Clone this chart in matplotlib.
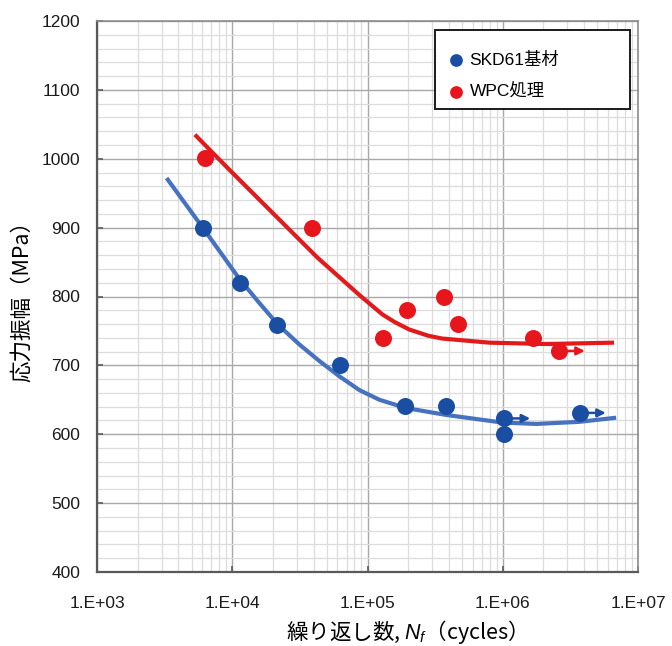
import matplotlib

matplotlib.use("Agg")
import matplotlib.pyplot as plt
from matplotlib.patches import Rectangle
from matplotlib.ticker import FixedLocator, NullFormatter

# measured points
skd_n = [6100, 11400, 21600, 62100, 190000, 381000, 1030000, 1030000, 3730000]
skd_s = [900, 819, 759, 701, 641, 641, 623, 600, 631]
skd_runout = [False, False, False, False, False, False, True, False, True]

wpc_n = [6270, 39100, 131000, 196000, 370000, 470000, 1660000, 2610000]
wpc_s = [1001, 900, 740, 780, 799, 760, 740, 721]
wpc_runout = [False, False, False, False, False, False, False, True]

# trend curves
skd_fit_n = [3270, 6100, 11350, 15950, 21800, 31500, 44300, 62100, 87300,
             122700, 193000, 383000, 991000, 1770000, 3670000, 6890000]
skd_fit_s = [972, 899, 825, 790, 759, 730, 706, 684, 664, 650, 638, 628, 617,
             615, 618, 624]

wpc_fit_n = [5290, 9310, 13870, 24400, 42900, 87300, 128800, 158500, 204000,
             282000, 355000, 794000, 2090000, 6650000]
wpc_fit_s = [1035, 986, 952, 904, 856, 802, 774, 763, 752, 743, 739, 733, 731, 733]

labels = ["SKD61基材", "WPC処理"]
x_ticks = [1e3, 1e4, 1e5, 1e6, 1e7]
x_tick_labels = ["1.E+03", "1.E+04", "1.E+05", "1.E+06", "1.E+07"]

plt.rcParams["font.family"] = ["Liberation Sans", "Noto Sans CJK JP"]
plt.rcParams["mathtext.fontset"] = "custom"
plt.rcParams["mathtext.rm"] = "Liberation Sans"
plt.rcParams["mathtext.it"] = "Liberation Sans:italic"

BLUE_DOT = "#1a4ea2"
BLUE_LINE = "#4672c0"
RED_DOT = "#e8161c"
RED_LINE = "#e31a1c"

fig = plt.figure(figsize=(6.72, 6.46), dpi=100)
ax = fig.add_axes([97 / 672, 74 / 646, 541 / 672, 551 / 646])

ax.set_xscale("log")
ax.set_xlim(1e3, 1e7)
ax.set_ylim(400, 1200)

# grid
minor_x = [m * 10 ** e for e in range(3, 7) for m in range(2, 10)]
ax.xaxis.set_minor_locator(FixedLocator(minor_x))
ax.xaxis.set_minor_formatter(NullFormatter())
ax.yaxis.set_minor_locator(FixedLocator(list(range(400, 1201, 20))))
ax.grid(which="minor", color="#dcdcdc", lw=0.9)
ax.grid(which="major", color="#a8a8a8", lw=1.0)
ax.set_axisbelow(True)

ax.set_xticks(x_ticks)
ax.set_xticklabels(x_tick_labels)
ax.set_yticks(range(400, 1201, 100))
ax.tick_params(which="major", direction="in", length=4, width=1.2, color="#595959",
               labelsize=12.5, labelcolor="#1a1a1a")
ax.tick_params(axis="x", pad=17)
ax.tick_params(axis="y", pad=12)
ax.tick_params(which="minor", length=0)

for side in ["top", "right"]:
    ax.spines[side].set_color("#8c8c8c")
    ax.spines[side].set_linewidth(1.2)
for side in ["left", "bottom"]:
    ax.spines[side].set_color("#595959")
    ax.spines[side].set_linewidth(1.6)

# trend curves
ax.plot(skd_fit_n, skd_fit_s, color=BLUE_LINE, lw=3, solid_joinstyle="round",
        solid_capstyle="butt", zorder=2)
ax.plot(wpc_fit_n, wpc_fit_s, color=RED_LINE, lw=3, solid_joinstyle="round",
        solid_capstyle="butt", zorder=2)

# points
ax.scatter(skd_n, skd_s, s=150, color=BLUE_DOT, lw=0, zorder=3, label=labels[0])
ax.scatter(wpc_n, wpc_s, s=150, color=RED_DOT, lw=0, zorder=3, label=labels[1])

# run-out arrows
for n, s, r in zip(skd_n, skd_s, skd_runout):
    if r:
        ax.annotate("", xy=(n * 1.55, s), xytext=(n, s), zorder=4,
                    arrowprops=dict(arrowstyle="-|>", color=BLUE_DOT, lw=1.8,
                                    mutation_scale=12, shrinkA=0, shrinkB=0))
for n, s, r in zip(wpc_n, wpc_s, wpc_runout):
    if r:
        ax.annotate("", xy=(n * 1.55, s), xytext=(n, s), zorder=4,
                    arrowprops=dict(arrowstyle="-|>", color=RED_DOT, lw=1.8,
                                    mutation_scale=12, shrinkA=0, shrinkB=0))

# legend box
ax.add_patch(Rectangle(((435 - 97) / 541, (572 - 109) / 551), 195 / 541, 79 / 551,
                       transform=ax.transAxes, facecolor="white", edgecolor="#1a1a1a",
                       lw=1.4, zorder=5))
ax.legend(loc="upper left", bbox_to_anchor=((440 - 97) / 541, (572 - 45) / 551),
          frameon=False, fontsize=12.5, handlelength=1.0, handletextpad=0.3,
          labelspacing=0.9, markerscale=0.75, borderaxespad=0).set_zorder(6)

ax.set_ylabel("応力振幅（MPa）", family=["Noto Sans CJK JP"], fontsize=15.5,
              labelpad=6)
ax.set_xlabel("繰り返し数, $N_f$（cycles）", family=["Noto Sans CJK JP"],
              fontsize=15.5)
ax.xaxis.set_label_coords(0.562, -0.084)

fig.savefig("out.png", dpi=100)
